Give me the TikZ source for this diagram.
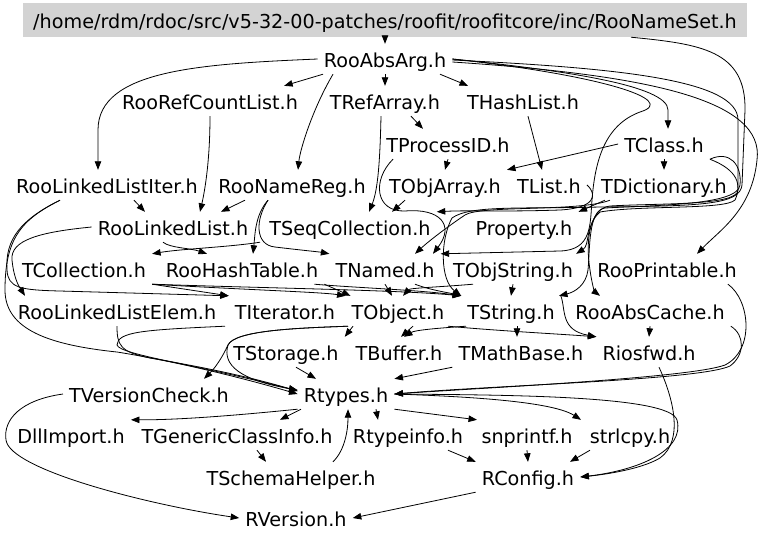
\documentclass[tikz,border=0pt]{standalone}
\usepackage{fontspec}
\usepackage{xcolor}
\usepackage{tikz}
\usetikzlibrary{arrows.meta,positioning}
\newfontfamily\gvfont{DejaVu Sans}
\definecolor{cHead}{HTML}{D3D3D3}
\definecolor{cEdge}{HTML}{000000}
\tikzset{
  hfile/.style = {rectangle, inner xsep=6pt, inner ysep=3pt, text height=20.7pt, text depth=3.3pt,
                  font=\gvfont\fontsize{19.2}{21}\selectfont},
  hroot/.style = {rectangle, fill=cHead, minimum width=724pt, minimum height=34pt, inner sep=0pt,
                  text height=20.7pt, text depth=4.3pt, font=\gvfont\fontsize{19.2}{21}\selectfont},
  dep/.style   = {-{Triangle[length=8.5pt,width=6.5pt]}, draw=cEdge, line width=0.8pt},
}
\begin{document}
\begin{tikzpicture}[x=1pt, y=-1pt, on grid]
  \useasboundingbox (0,0) rectangle (768,542);
  \node[hroot] (title) at (385,20) {/home/rdm/rdoc/src/v5-32-00-patches/roofit/roofitcore/inc/RooNameSet.h};
  \node[hfile, below=39pt of title] (RooAbsArg) {RooAbsArg.h};
  \node[hfile, below left=42pt and 175pt of RooAbsArg] (RooRefCountList) {RooRefCountList.h};
  \node[hfile, below=42pt of RooAbsArg] (TRefArray) {TRefArray.h};
  \node[hfile, right=138pt of TRefArray] (THashList) {THashList.h};
  \node[hfile, below right=43pt and 63pt of TRefArray] (TProcessID) {TProcessID.h};
  \node[hfile, right=216pt of TProcessID] (TClass) {TClass.h};
  \node[hfile, below left=84pt and 103pt of RooRefCountList] (RooLinkedListIter) {RooLinkedListIter.h};
  \node[hfile, right=185pt of RooLinkedListIter] (RooNameReg) {RooNameReg.h};
  \node[hfile, below left=41pt and 3pt of TProcessID] (TObjArray) {TObjArray.h};
  \node[hfile, right=104pt of TObjArray] (TList) {TList.h};
  \node[hfile, below=41pt of TClass] (TDictionary) {TDictionary.h};
  \node[hfile, below right=42pt and 66pt of RooLinkedListIter] (RooLinkedList) {RooLinkedList.h};
  \node[hfile, right=177pt of RooLinkedList] (TSeqCollection) {TSeqCollection.h};
  \node[hfile, right=174pt of TSeqCollection] (Property) {Property.h};
  \node[hfile, below left=42pt and 89pt of RooLinkedList] (TCollection) {TCollection.h};
  \node[hfile, right=158pt of TCollection] (RooHashTable) {RooHashTable.h};
  \node[hfile, right=143pt of RooHashTable] (TNamed) {TNamed.h};
  \node[hfile, right=128pt of TNamed] (TObjString) {TObjString.h};
  \node[hfile, right=154pt of TObjString] (RooPrintable) {RooPrintable.h};
  \node[hfile, below right=42pt and 33pt of TCollection] (RooLinkedListElem) {RooLinkedListElem.h};
  \node[hfile, right=168pt of RooLinkedListElem] (TIterator) {TIterator.h};
  \node[hfile, right=113pt of TIterator] (TObject) {TObject.h};
  \node[hfile, right=113pt of TObject] (TString) {TString.h};
  \node[hfile, right=139pt of TString] (RooAbsCache) {RooAbsCache.h};
  \node[hfile, below right=41pt and 1pt of TIterator] (TStorage) {TStorage.h};
  \node[hfile, right=113pt of TStorage] (TBuffer) {TBuffer.h};
  \node[hfile, right=122pt of TBuffer] (TMathBase) {TMathBase.h};
  \node[hfile, right=128pt of TMathBase] (Riosfwd) {Riosfwd.h};
  \node[hfile, below right=42pt and 60pt of TStorage] (Rtypes) {Rtypes.h};
  \node[hfile, left=197pt of Rtypes] (TVersionCheck) {TVersionCheck.h};
  \node[hfile, below left=41pt and 109pt of Rtypes] (TGenericClassInfo) {TGenericClassInfo.h};
  \node[hfile, left=166pt of TGenericClassInfo] (DllImport) {DllImport.h};
  \node[hfile, right=171pt of TGenericClassInfo] (Rtypeinfo) {Rtypeinfo.h};
  \node[hfile, right=119pt of Rtypeinfo] (snprintf) {snprintf.h};
  \node[hfile, right=103pt of snprintf] (strlcpy) {strlcpy.h};
  \node[hfile, below right=42pt and 54pt of TGenericClassInfo] (TSchemaHelper) {TSchemaHelper.h};
  \node[hfile, below right=42pt and 1pt of snprintf] (RConfig) {RConfig.h};
  \node[hfile, below right=41pt and 5pt of TSchemaHelper] (RVersion) {RVersion.h};

  \draw[dep] (title) -- (RooAbsArg);
  \draw[dep] ([xshift=246pt]title.south) .. controls (700,44) and (746,50) .. (745,110) -- (742,185)
    .. controls (740,205) and (700,206) .. (600,207) .. controls (520,209) and (470,205) .. (452,218)
    .. controls (440,240) and (440,280) .. (TString.north west);
  \draw[dep] (RooAbsArg.west) .. controls (200,64) and (98,70) .. (98,130) -- ([xshift=-9pt]RooLinkedListIter.north);
  \draw[dep] ([xshift=-62pt]RooAbsArg.south) -- ([xshift=-20pt]RooRefCountList.north east);
  \draw[dep] ([xshift=-52pt]RooAbsArg.south) .. controls (312,110) and (300,150) .. ([xshift=6pt]RooNameReg.north);
  \draw[dep] (RooAbsArg) -- (TRefArray);
  \draw[dep] ([xshift=55pt]RooAbsArg.south) -- ([xshift=-55pt]THashList.north);
  \draw[dep] (RooAbsArg.east) .. controls (560,70) and (668,85) .. (668,110) -- ([xshift=4pt]TClass.north);
  \draw[dep] ([yshift=-3pt]RooAbsArg.east) .. controls (650,75) and (765,100) .. (757,160)
    .. controls (752,210) and (720,230) .. ([xshift=30pt]RooPrintable.north);
  \draw[dep] ([yshift=-1pt]RooAbsArg.east) .. controls (620,68) and (738,80) .. (738,120) -- (738,190)
    .. controls (738,206) and (660,203) .. (610,206) .. controls (590,208) and (585,240) .. (590,270)
    .. controls (592,285) and (595,292) .. ([xshift=-50pt]RooAbsCache.north);
  \draw[dep] (RooAbsArg.east) .. controls (600,75) and (680,100) .. (640,112)
    .. controls (605,125) and (595,160) .. (592,200) .. controls (590,225) and (592,250) .. (560,251)
    -- (TNamed.north east);
  \draw[dep] ([xshift=5pt]THashList.south) -- ([xshift=-7pt]TList.north);
  \draw[dep] ([xshift=26pt]TRefArray.south) -- ([xshift=-25pt]TProcessID.north);
  \draw[dep] ([xshift=-4pt]TRefArray.south) .. controls (380,160) and (378,190) .. ([xshift=19pt]TSeqCollection.north);
  \draw[dep] (TProcessID.south) -- (TObjArray.north);
  \draw[dep] ([xshift=-55pt]TProcessID.south) .. controls (372,180) and (375,212) .. (405,211)
    .. controls (440,208) and (455,225) .. ([xshift=48pt]TNamed.north);
  \draw[dep] (TClass.west) -- (TObjArray.north east);
  \draw[dep] (TClass) -- (TDictionary);
  \draw[dep] (TClass.south east) .. controls (730,150) and (742,165) .. (740,185)
    .. controls (738,205) and (660,205) .. (605,208) .. controls (588,210) and (590,250) .. (588,270)
    .. controls (586,285) and (575,292) .. ([xshift=48pt]TString.north);
  \draw[dep] (TClass.south east) .. controls (738,170) and (742,185) .. (735,200)
    .. controls (725,210) and (640,205) .. (600,212) .. controls (585,225) and (590,245) .. ([xshift=-3pt]TObjString.north east);
  \draw[dep] ([xshift=10pt]TDictionary.south west) -- (Property.north east);
  \draw[dep] ([xshift=15pt]TDictionary.south west) .. controls (580,212) and (480,205) .. (465,215)
    .. controls (450,225) and (430,240) .. ([xshift=30pt]TNamed.north);
  \draw[dep] (TList.east) .. controls (598,195) and (595,208) .. (560,210)
    .. controls (500,212) and (470,210) .. (TSeqCollection.north east);
  \draw[dep] ([xshift=-40pt]TObjArray.south) -- ([xshift=42pt]TSeqCollection.north);
  \draw[dep] (RooRefCountList.south) .. controls (210,160) and (205,190) .. ([xshift=27pt]RooLinkedList.north);
  \draw[dep] ([xshift=27pt]RooLinkedListIter.south) -- ([xshift=-28pt]RooLinkedList.north);
  \draw[dep] ([xshift=-47pt]RooLinkedListIter.south) .. controls (20,220) and (5,240) .. (7,270)
    .. controls (8,288) and (20,290) .. (60,291) -- (TIterator.north west);
  \draw[dep] ([xshift=-47pt]RooLinkedListIter.south) .. controls (20,220) and (5,240) .. (5,290)
    .. controls (5,330) and (50,345) .. (117,352) .. controls (180,362) and (250,380) .. (Rtypes.west);
  \draw[dep] (RooLinkedList.west) .. controls (40,232) and (10,240) .. (12,260)
    .. controls (14,280) and (20,288) .. ([xshift=-92pt]RooLinkedListElem.north);
  \draw[dep] ([xshift=-10pt]RooLinkedList.south) .. controls (170,248) and (190,248) .. ([xshift=-35pt]RooHashTable.north);
  \draw[dep] ([xshift=-47pt]RooNameReg.south) -- ([xshift=48pt]RooLinkedList.north);
  \draw[dep] ([xshift=-24pt]RooNameReg.south) .. controls (255,215) and (255,235) .. ([xshift=11pt]RooHashTable.north);
  \draw[dep] ([xshift=-24pt]RooNameReg.south) .. controls (255,220) and (255,245) .. (275,247)
    .. controls (300,250) and (320,252) .. (TNamed.north west);
  \draw[dep] ([xshift=-90pt]TSeqCollection.south) .. controls (230,247) and (180,249) .. (TCollection.north east);
  \draw[dep] (TCollection.south east) -- (TIterator.north west);
  \draw[dep] (TCollection.south east) .. controls (250,290) and (320,292) .. (TObject.north west);
  \draw[dep] (TCollection.south east) .. controls (260,288) and (400,290) .. (TString.north west);
  \draw[dep] (RooHashTable.south east) -- ([xshift=5pt]TObject.north west);
  \draw[dep] ([xshift=-10pt]RooHashTable.south east) .. controls (360,288) and (420,290) .. (TString.north west);
  \draw[dep] (TNamed.south) -- ([xshift=-6pt]TObject.north);
  \draw[dep] ([xshift=30pt]TNamed.south) .. controls (430,290) and (450,293) .. (TString.north west);
  \draw[dep] ([xshift=-40pt]TObjString.south) .. controls (440,287) and (410,288) .. ([xshift=5pt]TObject.north);
  \draw[dep] (TObjString.south) -- (TString.north);
  \draw[dep] ([xshift=-45pt]TObject.south) -- (TStorage.north east);
  \draw[dep] ([xshift=15pt]TObject.south) -- ([xshift=2pt]TBuffer.north);
  \draw[dep] ([xshift=-45pt]TString.south) .. controls (440,328) and (415,330) .. ([xshift=5pt]TBuffer.north);
  \draw[dep] ([xshift=-50pt]TObject.south) .. controls (300,328) and (235,330) .. (228,345)
    .. controls (222,358) and (215,368) .. ([xshift=55pt]TVersionCheck.north);
  \draw[dep] ([xshift=-50pt]TObject.south) .. controls (300,328) and (235,330) .. (228,345)
    .. controls (222,365) and (240,380) .. ([yshift=4pt]Rtypes.west);
  \draw[dep] ([xshift=50pt]TObject.south) .. controls (500,331) and (560,334) .. (Riosfwd.north west);
  \draw[dep] ([xshift=6pt]TString.south) -- ([xshift=-4pt]TMathBase.north);
  \draw[dep] (TString.north east) .. controls (566,310) and (560,330) .. (Riosfwd.north west);
  \draw[dep] (RooAbsCache.south) -- (Riosfwd.north);
  \draw[dep] (RooAbsCache.south east) .. controls (745,335) and (745,355) .. (730,366)
    .. controls (700,380) and (500,385) .. (Rtypes.east);
  \draw[dep] ([xshift=-15pt]RooPrintable.south east) .. controls (750,300) and (755,350) .. (725,365)
    .. controls (690,378) and (480,388) .. (Rtypes.east);
  \draw[dep] ([xshift=10pt]TStorage.south) -- ([xshift=-30pt]Rtypes.north);
  \draw[dep] (TMathBase.south west) -- (Rtypes.north east);
  \draw[dep] ([xshift=10pt]Riosfwd.south) .. controls (672,395) and (685,440) .. (660,458)
    .. controls (640,470) and (600,475) .. (RConfig.east);
  \draw[dep] (RooLinkedListElem.south) .. controls (117,345) and (120,352) .. (150,358)
    .. controls (220,370) and (260,380) .. ([yshift=3pt]Rtypes.west);
  \draw[dep] ([xshift=-60pt]TIterator.south) .. controls (140,330) and (118,332) .. (117,345)
    .. controls (120,355) and (200,365) .. ([yshift=3pt]Rtypes.west);
  \draw[dep] (Rtypes.south west) .. controls (240,415) and (180,420) .. (DllImport.north east);
  \draw[dep] ([xshift=-45pt]Rtypes.south) -- ([xshift=43pt]TGenericClassInfo.north);
  \draw[dep] ([xshift=30pt]Rtypes.south) -- ([xshift=-30pt]Rtypeinfo.north);
  \draw[dep] (Rtypes.south east) -- ([xshift=-50pt]snprintf.north);
  \draw[dep] (Rtypes.east) .. controls (450,396) and (550,400) .. ([xshift=-49pt]strlcpy.north);
  \draw[dep] (Rtypes.east) .. controls (500,395) and (670,395) .. (677,420)
    .. controls (685,450) and (640,470) .. (RConfig.east);
  \draw[dep] ([xshift=20pt]TGenericClassInfo.south) -- ([xshift=-25pt]TSchemaHelper.north);
  \draw[dep] ([xshift=42pt]TSchemaHelper.north) .. controls (345,450) and (348,430) .. ([xshift=2pt]Rtypes.south);
  \draw[dep] ([xshift=40pt]Rtypeinfo.south) -- (RConfig.north west);
  \draw[dep] (snprintf.south) -- (RConfig.north);
  \draw[dep] ([xshift=-40pt]strlcpy.south) -- ([xshift=42pt]RConfig.north);
  \draw[dep] (TVersionCheck.west) .. controls (20,400) and (3,420) .. (6,440)
    .. controls (10,470) and (150,505) .. (RVersion.west);
  \draw[dep] (RConfig.south west) -- (RVersion.east);
\end{tikzpicture}
\end{document}
